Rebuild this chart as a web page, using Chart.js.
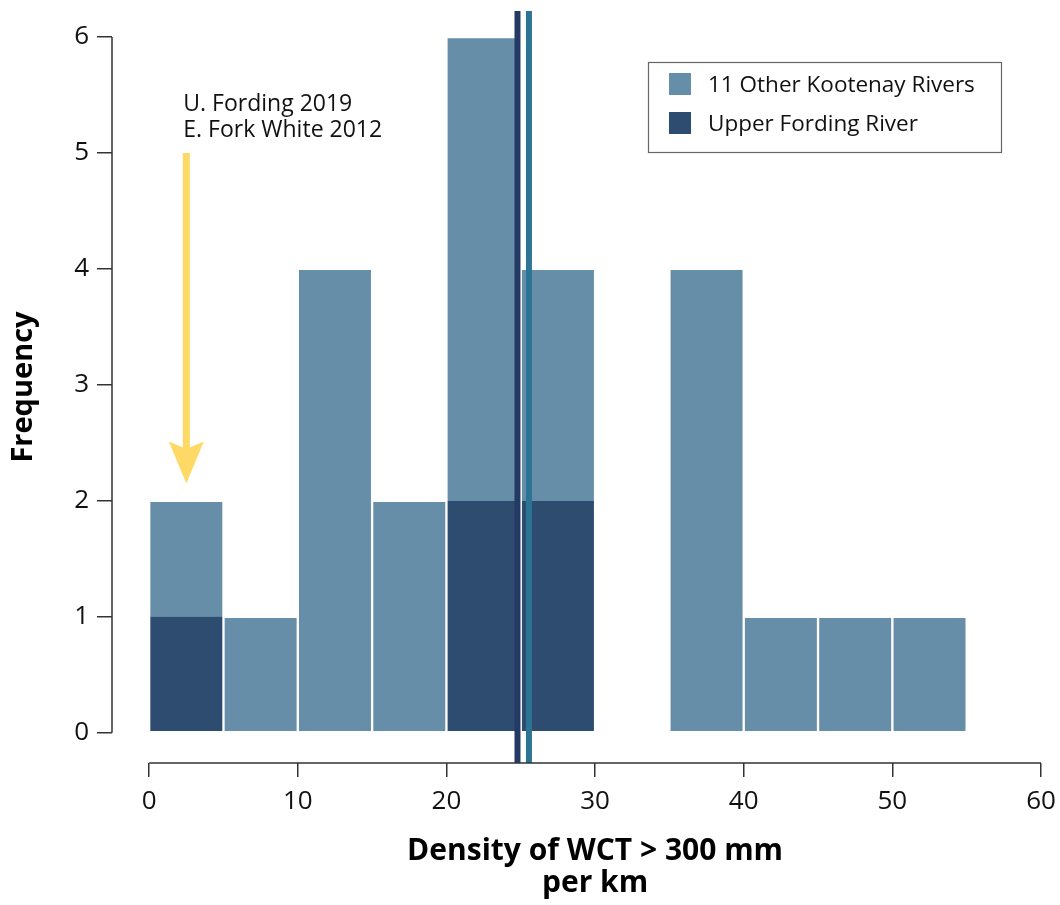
<!DOCTYPE html>
<html lang="en">
<head>
    <meta charset="UTF-8">
    <title>Density of WCT > 300 mm per km</title>
    <script src="https://cdn.jsdelivr.net/npm/chart.js"></script>
    <style>
        html, body { margin: 0; padding: 0; background: #fff; }
        #wrap { width: 1060px; height: 905px; }
    </style>
</head>
<body>
    <div id="wrap"><canvas id="densityChart"></canvas></div>
    <script>
        // histogram bins, 5 fish/km wide
        const binCenters = [2.5, 7.5, 12.5, 17.5, 22.5, 27.5, 32.5, 37.5, 42.5, 47.5, 52.5];
        const otherRivers = [2, 1, 4, 2, 6, 4, null, 4, 1, 1, 1];
        const upperFording = [1, null, null, null, 2, 2, null, null, null, null, null];

        // mean density lines
        const fordingMean = 24.78;
        const otherMean = 25.55;

        // arrow marking the lowest years
        const arrowX = 2.5;
        const arrowFrom = 5;
        const arrowTo = 2.15;
        const arrowLabels = ['U. Fording 2019', 'E. Fork White 2012'];

        const xTicks = [0, 10, 20, 30, 40, 50, 60];
        const yTicks = [0, 1, 2, 3, 4, 5, 6];
        const xTitle = ['Density of WCT > 300 mm', 'per km'];
        const xMin = -2.5, xMax = 60;
        const yMin = -0.26, yMax = 6.224;

        const lightBlue = '#678ea8';
        const darkBlue = '#2e4b70';
        const navy = '#233a64';
        const teal = '#2b7494';
        const fontFamily = '"Open Sans", "Noto Sans", sans-serif';

        const toPoints = (vals) => binCenters.map((x, i) => ({ x: x, y: vals[i] }));

        // axis lines, x title, arrow annotation and the boxed legend
        const extrasPlugin = {
            id: 'extras',
            afterDraw(chart) {
                const { ctx, chartArea } = chart;
                const xs = chart.scales.x, ys = chart.scales.y;
                ctx.save();

                const x0 = xs.getPixelForValue(xTicks[0]);
                const x1 = xs.getPixelForValue(xTicks[xTicks.length - 1]);
                ctx.strokeStyle = '#333';
                ctx.lineWidth = 1.5;
                ctx.beginPath();
                ctx.moveTo(chartArea.left, ys.getPixelForValue(yTicks[0]));
                ctx.lineTo(chartArea.left, ys.getPixelForValue(yTicks[yTicks.length - 1]));
                ctx.moveTo(x0, chartArea.bottom);
                ctx.lineTo(x1, chartArea.bottom);
                ctx.stroke();

                // x title centred under the 0-60 axis
                ctx.fillStyle = '#000';
                ctx.font = 'bold 30px ' + fontFamily;
                ctx.textAlign = 'center';
                ctx.textBaseline = 'middle';
                ctx.fillText(xTitle[0], (x0 + x1) / 2, chartArea.bottom + 88);
                ctx.fillText(xTitle[1], (x0 + x1) / 2, chartArea.bottom + 120);

                // yellow arrow
                const ax = xs.getPixelForValue(arrowX);
                const top = ys.getPixelForValue(arrowFrom);
                const tip = ys.getPixelForValue(arrowTo);
                const headLen = 42, headHalf = 17.5, shaftHalf = 3.5, notch = 6;
                ctx.fillStyle = '#ffd966';
                ctx.beginPath();
                ctx.moveTo(ax - shaftHalf, top);
                ctx.lineTo(ax + shaftHalf, top);
                ctx.lineTo(ax + shaftHalf, tip - headLen + notch);
                ctx.lineTo(ax + headHalf, tip - headLen);
                ctx.lineTo(ax, tip);
                ctx.lineTo(ax - headHalf, tip - headLen);
                ctx.lineTo(ax - shaftHalf, tip - headLen + notch);
                ctx.closePath();
                ctx.fill();

                ctx.fillStyle = '#111';
                ctx.font = '23px ' + fontFamily;
                ctx.textAlign = 'left';
                ctx.fillText(arrowLabels[0], ax - 3, top - 49);
                ctx.fillText(arrowLabels[1], ax - 3, top - 23);

                // legend box
                const lx = chartArea.right - 393, ly = chartArea.top + 51;
                ctx.strokeStyle = '#666';
                ctx.lineWidth = 1.2;
                ctx.strokeRect(lx + 0.5, ly + 0.5, 353, 90);
                ctx.font = '22.5px ' + fontFamily;
                const items = [chart.data.datasets[1], chart.data.datasets[0]];
                items.forEach((ds, i) => {
                    const cy = ly + 22 + i * 39;
                    ctx.fillStyle = ds.backgroundColor;
                    ctx.fillRect(lx + 21, cy - 11, 22, 22);
                    ctx.fillStyle = '#111';
                    ctx.fillText(ds.label, lx + 60, cy + 2);
                });
                ctx.restore();
            }
        };

        const ctx = document.getElementById('densityChart').getContext('2d');
        const densityChart = new Chart(ctx, {
            type: 'bar',
            data: {
                datasets: [
                    {
                        label: 'Upper Fording River',
                        data: toPoints(upperFording),
                        backgroundColor: darkBlue,
                        borderColor: 'rgba(255,255,255,0.9)',
                        borderWidth: 1.5,
                        borderSkipped: 'end',
                        barPercentage: 1,
                        categoryPercentage: 1,
                        grouped: false,
                        order: 1
                    },
                    {
                        label: '11 Other Kootenay Rivers',
                        data: toPoints(otherRivers),
                        backgroundColor: lightBlue,
                        borderColor: 'rgba(255,255,255,0.9)',
                        borderWidth: 1.5,
                        borderSkipped: false,
                        barPercentage: 1,
                        categoryPercentage: 1,
                        grouped: false,
                        order: 2
                    },
                    {
                        type: 'line',
                        label: 'Upper Fording mean',
                        data: [{ x: fordingMean, y: yMin }, { x: fordingMean, y: yMax }],
                        borderColor: navy,
                        borderWidth: 6,
                        pointRadius: 0,
                        order: 0
                    },
                    {
                        type: 'line',
                        label: 'Other rivers mean',
                        data: [{ x: otherMean, y: yMin }, { x: otherMean, y: yMax }],
                        borderColor: teal,
                        borderWidth: 6,
                        pointRadius: 0,
                        order: 0
                    }
                ]
            },
            options: {
                responsive: true,
                maintainAspectRatio: false,
                animation: false,
                layout: { padding: { top: 11, right: 19, left: 0, bottom: 0 } },
                plugins: {
                    legend: { display: false },
                    tooltip: { enabled: false }
                },
                scales: {
                    x: {
                        type: 'linear',
                        offset: false,
                        min: xMin,
                        max: xMax,
                        afterBuildTicks: (scale) => { scale.ticks = xTicks.map(v => ({ value: v })); },
                        afterFit: (scale) => {
                            scale.height = 142;
                            scale.paddingLeft = 0;
                            scale.paddingRight = 0;
                        },
                        grid: { offset: false, drawOnChartArea: false, tickLength: 14, color: '#333', lineWidth: 1.5 },
                        border: { display: false },
                        ticks: { color: '#111', padding: 9, font: { family: fontFamily, size: 26 }, maxRotation: 0 },
                        title: { display: false }
                    },
                    y: {
                        min: yMin,
                        max: yMax,
                        afterBuildTicks: (scale) => { scale.ticks = yTicks.map(v => ({ value: v })); },
                        afterFit: (scale) => {
                            scale.width = 112;
                            scale.paddingTop = 0;
                            scale.paddingBottom = 0;
                        },
                        grid: { drawOnChartArea: false, tickLength: 15, color: '#333', lineWidth: 1.5 },
                        border: { display: false },
                        ticks: { color: '#111', padding: 8, font: { family: fontFamily, size: 26 } },
                        title: {
                            display: true,
                            text: 'Frequency',
                            color: '#000',
                            font: { family: fontFamily, size: 29, weight: 'bold' },
                            padding: { top: 6, bottom: 0 }
                        }
                    }
                }
            },
            plugins: [extrasPlugin]
        });
    </script>
</body>
</html>
